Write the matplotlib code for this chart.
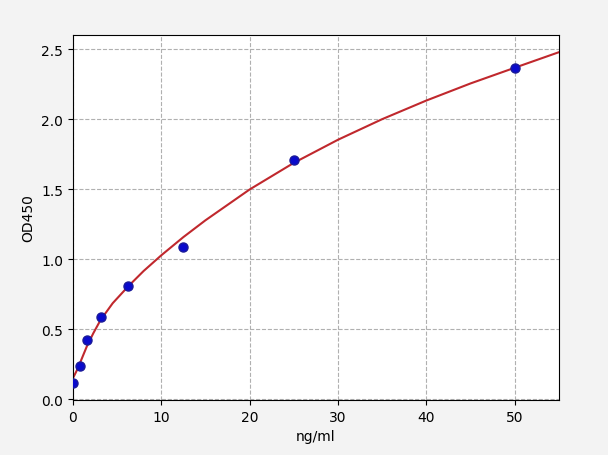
import matplotlib
matplotlib.use("Agg")
import matplotlib.pyplot as plt

# standard points
conc = [0, 0.78, 1.56, 3.125, 6.25, 12.5, 25, 50]
od = [0.113, 0.233, 0.419, 0.59, 0.806, 1.083, 1.71, 2.362]

# fitted curve
curve_x = [0, 0.4, 0.78, 1.2, 1.56, 2.3, 3.125, 4.5, 6.25, 8, 10, 12.5,
           15, 20, 25, 30, 35, 40, 45, 50, 55]
curve_y = [0.15, 0.2, 0.255, 0.32, 0.375, 0.47, 0.565, 0.685, 0.805, 0.915,
           1.027, 1.157, 1.277, 1.497, 1.687, 1.852, 1.999, 2.132, 2.254,
           2.366, 2.477]

fig = plt.figure(figsize=(6.08, 4.56), dpi=100, facecolor='#f3f3f3')
ax = fig.add_axes([0.12, 0.121, 0.799, 0.8])

ax.plot(curve_x, curve_y, color='#c0282d', linewidth=1.5, zorder=2)
ax.plot(conc, od, 'o', color='#0a0acc', markeredgecolor='#1a1a99',
        markersize=6.5, zorder=3)

ax.set_xlim(0, 55)
ax.set_ylim(-0.005, 2.6)
ax.set_xticks([0, 10, 20, 30, 40, 50])
ax.set_yticks([0.0, 0.5, 1.0, 1.5, 2.0, 2.5])
ax.grid(True, linestyle='--', color='#b0b0b0', linewidth=0.8)
ax.set_xlabel('ng/ml')
ax.set_ylabel('OD450')

fig.savefig('out.png', dpi=100, facecolor=fig.get_facecolor())
